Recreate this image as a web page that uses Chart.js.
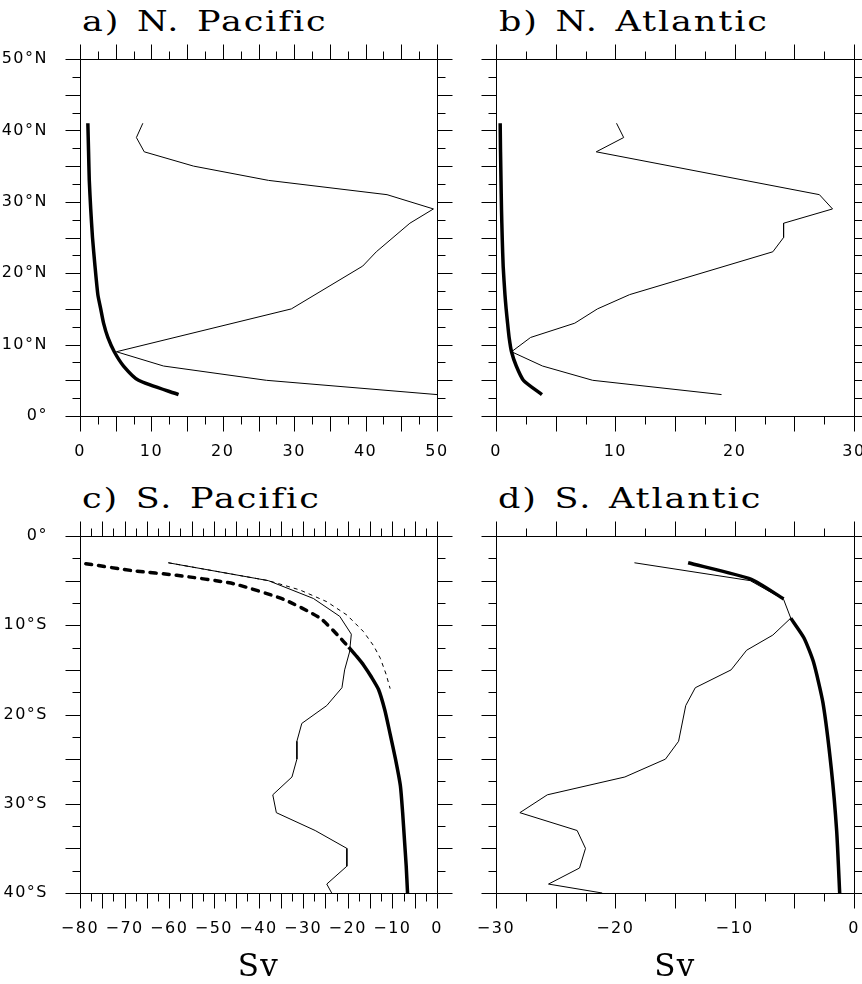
<!DOCTYPE html>
<html>
<head>
<meta charset="utf-8">
<script src="https://cdn.jsdelivr.net/npm/chart.js@4.4.1/dist/chart.umd.min.js"></script>
<style>
  html, body { margin: 0; padding: 0; background: #fff; }
  #page { position: relative; width: 862px; height: 984px; overflow: hidden; }
  canvas { position: absolute; left: 0; top: 0; }
  .ttl {
    position: absolute; color: #000; white-space: nowrap;
    font: 28px "DejaVu Serif"; line-height: 28px;
    letter-spacing: 1.5px; word-spacing: 3px;
    transform: scaleX(1.25); transform-origin: 0 0;
  }
</style>
</head>
<body>
<div id="page">
  <div class="ttl" style="left:82px;top:8px">a) N. Pacific</div>
  <div class="ttl" style="left:499px;top:8px">b) N. Atlantic</div>
  <div class="ttl" style="left:82px;top:485px">c) S. Pacific</div>
  <div class="ttl" style="left:498px;top:485px">d) S. Atlantic</div>
  <canvas id="pa" width="862" height="984"></canvas>
  <canvas id="pb" width="862" height="984"></canvas>
  <canvas id="pc" width="862" height="984"></canvas>
  <canvas id="pd" width="862" height="984"></canvas>
</div>
<script>
// tick labels
const latTicksN = [0, 10, 20, 30, 40, 50];
const latLabelsN = ['0°', '10°N', '20°N', '30°N', '40°N', '50°N'];
const latTicksS = [0, -10, -20, -30, -40];
const latLabelsS = ['0°', '10°S', '20°S', '30°S', '40°S'];
const svTicksA = [0, 10, 20, 30, 40, 50];
const svTicksB = [0, 10, 20, 30];
const svTicksC = [-80, -70, -60, -50, -40, -30, -20, -10, 0];
const svTicksD = [-30, -20, -10, 0];

// a) N. Pacific
const npThinLat = [41, 39, 37, 35, 33, 31, 29, 27, 23, 21, 15, 9, 7, 5, 3];
const npThinSv = [8.8, 7.9, 9.0, 15.9, 26.4, 43.0, 49.5, 46.2, 41.5, 39.6, 29.6, 5.1, 11.7, 26.1, 50.0];
const npThickLat = [41, 37, 33, 29, 25, 21, 17, 15, 13, 11, 9, 7, 5, 3];
const npThickSv = [1.1, 1.2, 1.3, 1.5, 1.75, 2.1, 2.5, 2.9, 3.3, 3.9, 4.8, 6.1, 8.2, 13.8];

// b) N. Atlantic
const naThinLat = [41, 39, 37, 31, 29, 27, 25, 23, 17, 15, 13, 11, 9, 7, 5, 3];
const naThinSv = [10.1, 10.7, 8.4, 27.1, 28.2, 24.1, 24.1, 23.2, 11.2, 8.5, 6.6, 2.9, 1.3, 3.9, 8.1, 18.9];
const naThickLat = [41, 37, 33, 29, 25, 21, 17, 15, 13, 11, 9, 7, 5, 3];
const naThickSv = [0.35, 0.38, 0.42, 0.46, 0.52, 0.6, 0.75, 0.85, 0.97, 1.1, 1.3, 1.7, 2.3, 3.85];

// c) S. Pacific
const spThinLat = [-3, -5, -7, -9, -11, -13, -15, -17, -19, -21, -23, -25, -27, -29, -31, -33, -35, -37, -39, -40];
const spThinSv = [-60.2, -37.8, -27.7, -21.8, -19.2, -19.6, -20.7, -21.3, -24.7, -30.3, -31.4, -31.4, -32.5, -36.8, -36.0, -27.3, -20.2, -20.2, -24.7, -23.6];
const spDashLat = [-3, -5, -6.05, -7.36, -8.85, -10.7, -12.3, -13.7, -15.5, -17.1];
const spDashSv = [-60.2, -37.8, -30.7, -24.7, -20.2, -16.5, -14.2, -12.7, -11.4, -10.5];
const spThickDashLat = [-3.1, -3.9, -4.4, -5.35, -7.1, -9.2, -11.4, -12.45];
const spThickDashSv = [-78.7, -68.0, -58.3, -45.6, -34.4, -26.2, -21.7, -19.8];
const spThickLat = [-12.45, -13.5, -14.5, -15.8, -17.2, -19.5, -22.2, -25, -28, -31, -34, -37, -40];
const spThickSv = [-19.8, -18.0, -16.4, -14.7, -13.1, -11.7, -10.5, -9.3, -8.2, -7.7, -7.3, -6.9, -6.6];

// d) S. Atlantic
const saThinLat = [-3, -5, -7.1, -9.2, -11.1, -12.8, -15, -17, -19, -23, -25, -27, -29, -31, -33, -35, -37.2, -39, -40];
const saThinSv = [-18.4, -8.7, -5.9, -5.3, -6.8, -9.0, -10.3, -13.3, -14.1, -14.7, -15.8, -19.2, -25.7, -28.0, -23.2, -22.5, -23.0, -25.6, -21.1];
const saThickNLat = [-3, -4.85, -7.05];
const saThickNSv = [-13.9, -8.6, -5.9];
const saThickSLat = [-9.2, -11.4, -14.1, -18.7, -26.1, -33.1, -40];
const saThickSSv = [-5.3, -4.2, -3.4, -2.6, -1.9, -1.45, -1.2];

// frame and the outward tick marks (major every 5, minor every 2.5)
const frameTicks = {
  id: 'frameTicks',
  beforeDraw(chart) {
    chart.ctx.letterSpacing = '1.5px';
  },
  afterDraw(chart, args, opts) {
    const { ctx, chartArea: a, scales: { x, y } } = chart;
    const L = Math.round(a.left) + 0.5, R = Math.round(a.right) + 0.5;
    const T = Math.round(a.top) + 0.5, B = Math.round(a.bottom) + 0.5;
    ctx.save();
    ctx.strokeStyle = '#000';
    ctx.lineWidth = 1;
    ctx.beginPath();
    ctx.rect(L, T, R - L, B - T);
    const nx = Math.round((x.max - x.min) / opts.step);
    for (let i = 0; i <= nx; i++) {
      const px = Math.round(x.getPixelForValue(x.min + i * opts.step)) + 0.5;
      const len = i % 2 === 0 ? 15 : 8;
      ctx.moveTo(px, B); ctx.lineTo(px, B + len);
      ctx.moveTo(px, T); ctx.lineTo(px, T - len);
    }
    const ny = Math.round((y.max - y.min) / opts.step);
    for (let i = 0; i <= ny; i++) {
      const py = Math.round(y.getPixelForValue(y.min + i * opts.step)) + 0.5;
      const len = i % 2 === 0 ? 15 : 8;
      ctx.moveTo(L, py); ctx.lineTo(L - len, py);
      ctx.moveTo(R, py); ctx.lineTo(R + len, py);
    }
    ctx.stroke();
    ctx.restore();
  }
};

function zeroPad(s) {
  s.paddingLeft = 0; s.paddingRight = 0; s.paddingTop = 0; s.paddingBottom = 0;
}

function line(lat, sv, width, dash) {
  return {
    data: lat.map((v, i) => ({ x: sv[i], y: v })),
    showLine: true,
    borderColor: '#000',
    borderWidth: width,
    borderDash: dash || [],
    borderCapStyle: dash && width > 2 ? 'round' : 'butt',
    borderJoinStyle: 'round',
    pointRadius: 0,
    tension: width > 2 ? 0.2 : 0,
    fill: false,
    clip: false
  };
}

const tickFont = { family: 'DejaVu Sans', size: 16 };

function panel(id, o) {
  const yw = o.area[0];
  return new Chart(document.getElementById(id), {
    type: 'scatter',
    data: { datasets: o.series },
    options: {
      responsive: false,
      animation: false,
      events: [],
      layout: {
        autoPadding: false,
        padding: { left: 0, top: o.area[1], right: 862 - o.area[2], bottom: 984 - o.area[3] - o.xh }
      },
      plugins: { legend: { display: false }, tooltip: { enabled: false }, frameTicks: { step: 2.5 } },
      scales: {
        x: {
          type: 'linear', position: 'bottom', min: o.xTicks[0], max: o.xTicks[o.xTicks.length - 1],
          grid: { display: false }, border: { display: false },
          afterBuildTicks: s => { s.ticks = o.xTicks.map(v => ({ value: v })); },
          afterFit: s => { s.height = o.xh; zeroPad(s); },
          ticks: {
            padding: 18, font: tickFont, color: '#000', autoSkip: false, maxRotation: 0,
            callback: v => (v < 0 ? '\u2212' + Math.abs(v) : String(v))
          },
          title: {
            display: o.sv, text: 'Sv', color: '#000', padding: 0,
            font: { family: 'DejaVu Serif', size: 31, lineHeight: 1 }
          }
        },
        y: {
          type: 'linear', position: 'left', min: o.yMin, max: o.yMax,
          grid: { display: false }, border: { display: false },
          afterBuildTicks: s => { s.ticks = o.yTicks.map(v => ({ value: v })); },
          afterFit: s => { s.width = yw; zeroPad(s); },
          ticks: {
            display: o.yLabels !== null, padding: 24, font: tickFont, color: '#000', autoSkip: false,
            callback: (v, i) => (o.yLabels ? o.yLabels[i] : '')
          }
        }
      }
    },
    plugins: [frameTicks]
  });
}

panel('pa', {
  area: [80, 59, 437, 416], xh: 90, sv: false,
  xTicks: svTicksA, yTicks: latTicksN, yLabels: latLabelsN, yMin: 0, yMax: 50,
  series: [line(npThinLat, npThinSv, 1), line(npThickLat, npThickSv, 3.5)]
});
panel('pb', {
  area: [496, 59, 854, 416], xh: 90, sv: false,
  xTicks: svTicksB, yTicks: latTicksN, yLabels: null, yMin: 0, yMax: 50,
  series: [line(naThinLat, naThinSv, 1), line(naThickLat, naThickSv, 3.5)]
});
panel('pc', {
  area: [80, 536, 437, 893], xh: 90.5, sv: true,
  xTicks: svTicksC, yTicks: latTicksS, yLabels: latLabelsS, yMin: -40, yMax: 0,
  series: [
    line(spThinLat, spThinSv, 1),
    line(spDashLat, spDashSv, 1, [4, 4]),
    line(spThickDashLat, spThickDashSv, 3.5, [6, 7]),
    line(spThickLat, spThickSv, 3.5)
  ]
});
panel('pd', {
  area: [496, 536, 854, 893], xh: 90.5, sv: true,
  xTicks: svTicksD, yTicks: latTicksS, yLabels: null, yMin: -40, yMax: 0,
  series: [
    line(saThinLat, saThinSv, 1),
    line(saThickNLat, saThickNSv, 3.5),
    line(saThickSLat, saThickSSv, 3.5)
  ]
});
</script>
</body>
</html>
